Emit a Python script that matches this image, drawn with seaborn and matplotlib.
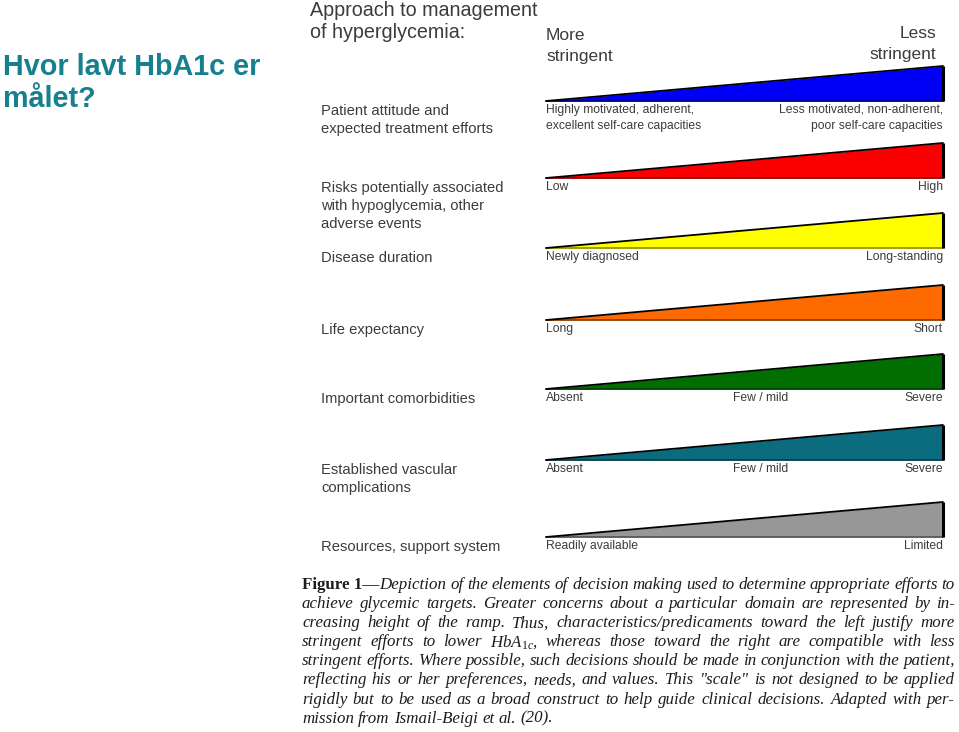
import matplotlib
matplotlib.use("Agg")
import matplotlib.pyplot as plt
import matplotlib.colors as mcolors
import seaborn as sns

# --- data -------------------------------------------------------------
row_labels = [
    "Patient attitude and\nexpected treatment efforts",
    "Risks potentially associated\nwith hypoglycemia, other\nadverse events",
    "Disease duration",
    "Life expectancy",
    "Important comorbidities",
    "Established vascular\ncomplications",
    "Resources, support system",
]
left_ends = [
    "Highly motivated, adherent,\nexcellent self-care capacities",
    "Low", "Newly diagnosed", "Long", "Absent", "Absent", "Readily available",
]
mid_ends = ["", "", "", "", "Few / mild", "Few / mild", ""]
right_ends = [
    "Less motivated, non-adherent,\npoor self-care capacities",
    "High", "Long-standing", "Short", "Severe", "Severe", "Limited",
]
ramp_colors = ["#0000f8", "#fa0000", "#ffff00", "#ff6a00", "#006e00", "#0b6c80", "#979797"]

# ramp goes from "more stringent" (0) to "less stringent" (1)
ramp_x = [0.0, 1.0]
ramp_height = [0.0, 1.0]

slide_title = "Hvor lavt HbA1c er\nmålet?"
heading = "Approach to management\nof hyperglycemia:"
left_head = "More\nstringent"
right_head = "Less\nstringent"

caption_lines = [
    "Figure 1—Depiction of the elements of decision making used to determine appropriate efforts to",
    "achieve glycemic targets. Greater concerns about a particular domain are represented by in-",
    "creasing height of the ramp. Thus, characteristics/predicaments toward the left justify more",
    "stringent efforts to lower HbA$_{1c}$, whereas those toward the right are compatible with less",
    "stringent efforts. Where possible, such decisions should be made in conjunction with the patient,",
    "reflecting his or her preferences, needs, and values. This \"scale\" is not designed to be applied",
    "rigidly but to be used as a broad construct to help guide clinical decisions. Adapted with per-",
    "mission from Ismail-Beigi et al. (20).",
]

# --- style ------------------------------------------------------------
sns.set_theme(style="white")
plt.rcParams["font.family"] = ["Liberation Sans", "DejaVu Sans"]
plt.rcParams["mathtext.fontset"] = "custom"
plt.rcParams["mathtext.rm"] = "Liberation Serif"
plt.rcParams["mathtext.it"] = "Liberation Serif:italic"

W, H = 959, 732
fig = plt.figure(figsize=(W / 100, H / 100), dpi=100)
fig.patch.set_facecolor("white")

bg = fig.add_axes([0, 0, 1, 1])
bg.set_xlim(0, W)
bg.set_ylim(H, 0)
bg.axis("off")

text_col = "#3c3c3c"
title_col = "#16808f"

# slide title
for i, line in enumerate(slide_title.split("\n")):
    bg.text(3, 67 + i * 32, line, fontsize=20.7, fontweight="bold",
            color=title_col, va="center", ha="left")

# figure heading
for i, line in enumerate(heading.split("\n")):
    bg.text(310, 10 + i * 23, line, fontsize=14.2, color=text_col, va="center")
for i, line in enumerate(left_head.split("\n")):
    bg.text(546, 35 + i * 21, line, fontsize=12.5, color=text_col, va="center")
for i, line in enumerate(right_head.split("\n")):
    bg.text(936, 34 + i * 21, line, fontsize=12.5, color=text_col, va="center", ha="right")

# ramps
ramp_left, ramp_right, ramp_h = 546, 943, 35
row_bottoms = [101, 178, 248, 320, 389, 460, 537]

for i, bottom in enumerate(row_bottoms):
    ax = fig.add_axes([ramp_left / W, 1 - bottom / H,
                       (ramp_right - ramp_left) / W, ramp_h / H])
    ax.set_xlim(0, 1)
    ax.set_ylim(0, 1)
    ax.axis("off")
    col = ramp_colors[i]
    dark = tuple(0.55 * c for c in mcolors.to_rgb(col))
    ax.fill_between(ramp_x, 0, ramp_height, color=col, lw=0)
    ax.plot(ramp_x, [0, 0], color=dark, lw=1.2, clip_on=False)
    sns.lineplot(x=ramp_x, y=ramp_height, color="black", lw=1.3, ax=ax,
                 legend=False, clip_on=False)
    ax.plot([ramp_x[1], ramp_x[1]], [0, ramp_height[1]], color="black",
            lw=2.2, clip_on=False, solid_capstyle="butt")

    for j, line in enumerate(row_labels[i].split("\n")):
        bg.text(321, bottom + 10 + j * 18, line, fontsize=10.6, color=text_col, va="center")
    for j, line in enumerate(left_ends[i].split("\n")):
        bg.text(546, bottom + 9 + j * 16, line, fontsize=8.7, color=text_col, va="center")
    for j, line in enumerate(right_ends[i].split("\n")):
        bg.text(943, bottom + 9 + j * 16, line, fontsize=8.7, color=text_col,
                va="center", ha="right")
    if mid_ends[i]:
        bg.text(761, bottom + 9, mid_ends[i], fontsize=8.7, color=text_col,
                va="center", ha="center")

# caption, justified
renderer = fig.canvas.get_renderer()
cap_font = dict(family=["Liberation Serif", "DejaVu Serif"], fontsize=12.2, color="#1c1c1c")
ital = dict(cap_font, style="italic")
bold = dict(cap_font, fontweight="bold")


def seg_width(text, kw):
    t = bg.text(0, 0, text, **kw)
    w = t.get_window_extent(renderer).width
    t.remove()
    return w


space_w = seg_width("a a", ital) - 2 * seg_width("a", ital)
cap_left, cap_right = 302, 955
for k, line in enumerate(caption_lines):
    y = 585 + k * 19.1
    tokens = line.split(" ")
    words = []
    if k == 0:
        tokens = tokens[2:]
        first = line.split(" ")[1]
        words.append([("Figure 1—", bold), (first[2:], ital)])
    words += [[(w, ital)] for w in tokens]
    widths = [sum(seg_width(s, kw) for s, kw in wd) for wd in words]
    if k == len(caption_lines) - 1:
        gap = space_w
    else:
        gap = max((cap_right - cap_left - sum(widths)) / (len(words) - 1), 1.5)
    x = cap_left
    for wd, ww in zip(words, widths):
        xs = x
        for s, kw in wd:
            bg.text(xs, y, s, va="center", ha="left", **kw)
            xs += seg_width(s, kw)
        x += ww + gap

fig.savefig("out.png", dpi=100, facecolor="white")
